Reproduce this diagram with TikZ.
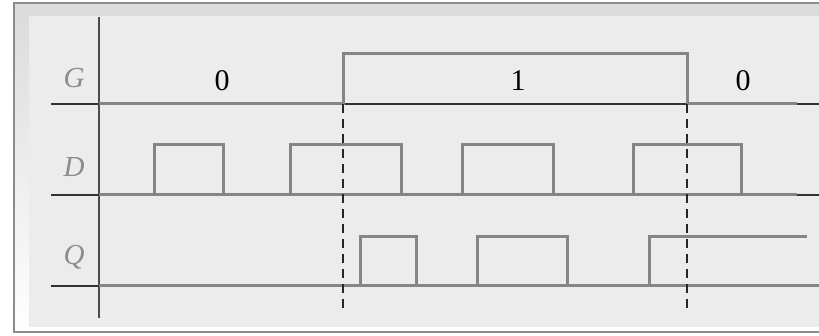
\documentclass[tikz,border=0pt]{standalone}
\usepackage{fontspec}
\setmainfont{Liberation Serif}
\usepackage{tikz}
\definecolor{sigcol}{HTML}{858585}
\definecolor{panel}{HTML}{ECECEC}
\definecolor{band}{HTML}{DCDCDC}
\definecolor{labcol}{HTML}{8C8C8C}
\tikzset{
  wave/.style={line width=3pt,sigcol,line join=miter},
  base/.style={line width=1.4pt,black!80},
  cut/.style={line width=1.5pt,black!85,dash pattern=on 9pt off 6pt},
  sname/.style={font=\fontsize{29}{32}\selectfont\itshape,text=labcol,inner sep=0pt},
  level/.style={font=\fontsize{30}{33}\selectfont,text=black,inner sep=0pt}
}
\begin{document}
\begin{tikzpicture}[x=1pt,y=-1pt]
\useasboundingbox (0,0) rectangle (819,336);
% frame
\fill[white] (0,0) rectangle (819,336);
\fill[band] (14,3) rectangle (819,16);
\shade[top color=band,bottom color=white] (14,16) rectangle (29,332);
\fill[panel] (29,16) rectangle (819,327);
\draw[line width=1.5pt,black!45] (819,3) -- (14,3) -- (14,332) -- (819,332);
% axis and baselines
\coordinate (top) at (99,17);
\coordinate (bot) at (99,318);
\draw[line width=2pt,black!70] (top) -- (bot);
\draw[base] (51,104) -- (819,104);
\draw[base] (51,195) -- (819,195);
\draw[base] (51,286) -- (819,286);
% signal names
\node[sname] (g) at (74,78) {G};
\node[sname] (d) at (74,167) {D};
\node[sname] (q) at (74,257) {Q};
% G
\draw[wave] (99,104) -- (343,104) -- (343,54) -- (687,54) -- (687,104) -- (797,104);
\node[level] (g0) at (222,81) {0};
\node[level] (g1) at (518,81) {1};
\node[level] (g2) at (743,81) {0};
% D
\draw[wave] (99,195) -- (797,195);
\foreach \a/\b in {154/223,290/401,462/553,633/741}
  \draw[wave] (\a,195) |- (\b,145) -- (\b,195);
% Q
\draw[wave] (99,286) -- (819,286);
\foreach \a/\b in {360/416,477/567}
  \draw[wave] (\a,286) |- (\b,237) -- (\b,286);
\draw[wave] (649,286) |- (807,237);
% enable edges
\coordinate (rise) at (343,104);
\coordinate (fall) at (687,104);
\draw[cut] (rise) -- (343,310);
\draw[cut] (fall) -- (687,310);
\end{tikzpicture}
\end{document}
